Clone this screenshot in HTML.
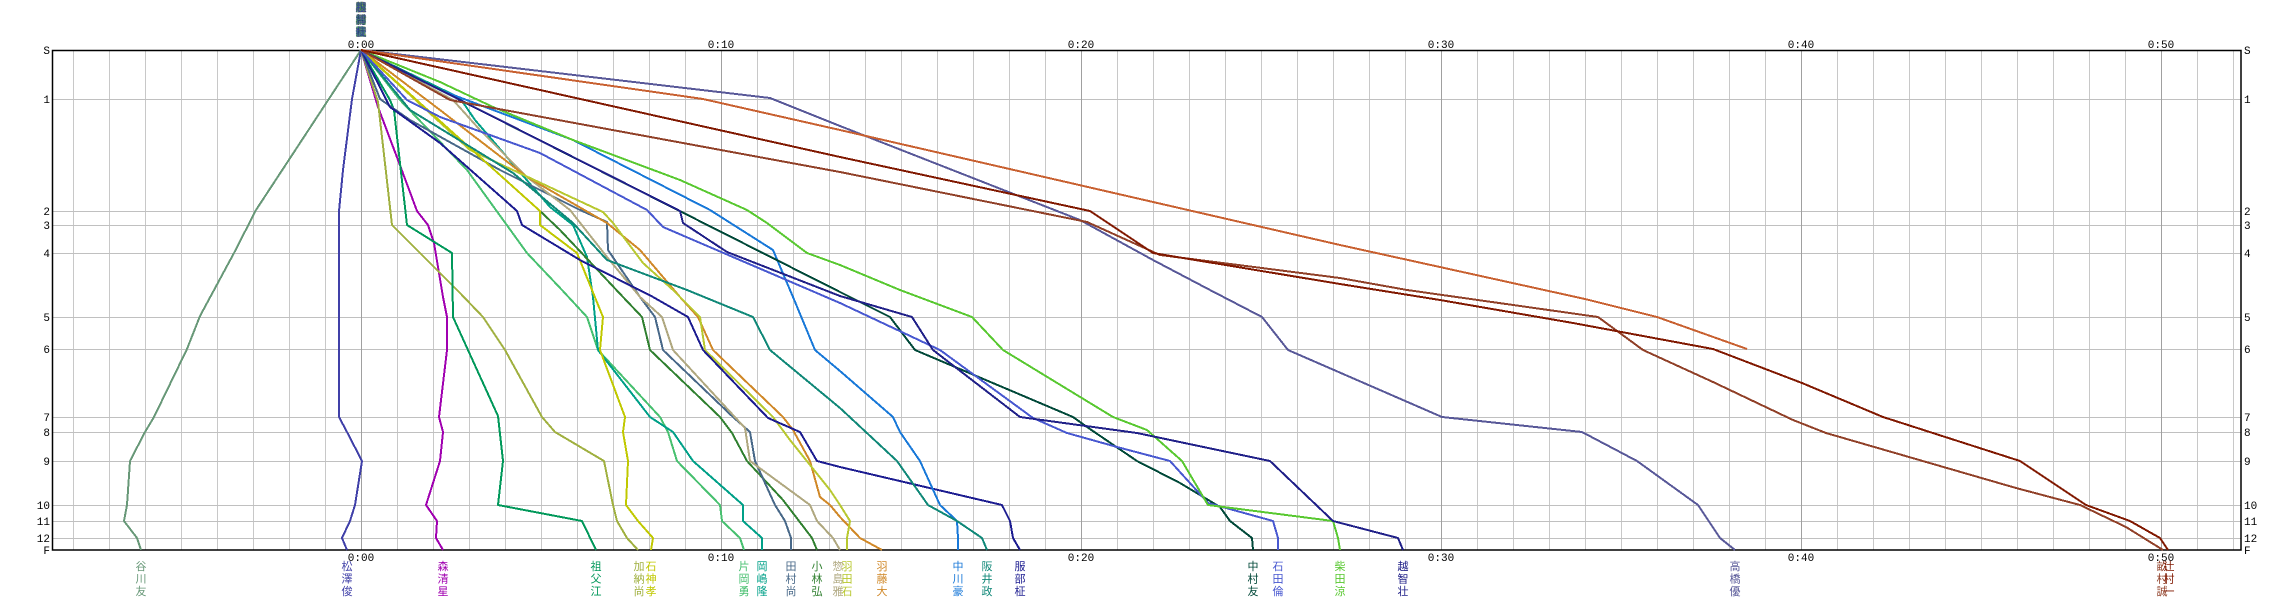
<!DOCTYPE html>
<html><head><meta charset="utf-8"><style>
html,body{margin:0;padding:0;background:#fff;}
svg{display:block;}
.t{font-family:"Liberation Mono",monospace;font-size:11px;fill:#000;}
.n{font-family:"Liberation Sans","Noto Sans CJK JP",sans-serif;font-size:11px;}
</style></head><body>
<svg xmlns="http://www.w3.org/2000/svg" width="2293" height="600" viewBox="0 0 2293 600">
<rect width="2293" height="600" fill="#fff"/>
<path fill="none" stroke="#c8c8c8" stroke-width="1" d="M73.5 50V550M109.5 50V550M145.5 50V550M181.5 50V550M217.5 50V550M253.5 50V550M289.5 50V550M325.5 50V550M397.5 50V550M433.5 50V550M469.5 50V550M505.5 50V550M541.5 50V550M577.5 50V550M613.5 50V550M649.5 50V550M685.5 50V550M757.5 50V550M793.5 50V550M829.5 50V550M865.5 50V550M901.5 50V550M937.5 50V550M973.5 50V550M1009.5 50V550M1045.5 50V550M1117.5 50V550M1153.5 50V550M1189.5 50V550M1225.5 50V550M1261.5 50V550M1297.5 50V550M1333.5 50V550M1369.5 50V550M1405.5 50V550M1477.5 50V550M1513.5 50V550M1549.5 50V550M1585.5 50V550M1621.5 50V550M1657.5 50V550M1693.5 50V550M1729.5 50V550M1765.5 50V550M1837.5 50V550M1873.5 50V550M1909.5 50V550M1945.5 50V550M1981.5 50V550M2017.5 50V550M2053.5 50V550M2089.5 50V550M2125.5 50V550M2197.5 50V550M2233.5 50V550"/>
<path fill="none" stroke="#c0c0c0" stroke-width="1" d="M52 99.5H2241M52 211.5H2241M52 225.5H2241M52 253.5H2241M52 317.5H2241M52 349.5H2241M52 417.5H2241M52 432.5H2241M52 461.5H2241M52 505.5H2241M52 521.5H2241M52 538.5H2241"/>
<path fill="none" stroke="#a0a0a0" stroke-width="1" d="M361.5 50V550M721.5 50V550M1081.5 50V550M1441.5 50V550M1801.5 50V550M2161.5 50V550"/>
<rect x="52.5" y="50.5" width="2188.5" height="499.5" fill="none" stroke="#000" stroke-width="1.5"/>

<g fill="none" stroke-width="2" stroke-linejoin="round" shape-rendering="crispEdges">
<polyline stroke="#689878" points="361,50 256,210 234,253 200,316 187,349 154,417 145,432 130,461 127,505 124,521 137,538 141,550"/>
<polyline stroke="#4040a8" points="361,50 352,99 343,170 339,211 339,417 347,432 362,461 355,505 350,521 342,538 347,550"/>
<polyline stroke="#a000b0" points="361,50 378,107 398,160 417,211 428,225 434,243 443,297 447,317 447,350 439,417 443,432 440,461 426,505 437,521 436,538 443,550"/>
<polyline stroke="#a0b040" points="361,50 378,102 392,225 460,293 483,317 505,350 542,417 555,432 604,461 613,505 617,521 627,538 638,550"/>
<polyline stroke="#00985a" points="361,50 390,100 394,110 407,225 452,253 453,317 498,416 503,461 498,505 582,521 596,550"/>
<polyline stroke="#48c070" points="361,50 400,100 467,170 527,253 562,290 587,317 598,350 660,417 668,432 677,461 720,505 722,521 740,538 744,550"/>
<polyline stroke="#00a088" points="361,50 460,98 475,120 550,207 573,225 587,257 593,297 598,350 650,417 673,432 693,461 743,505 743,521 762,538 762,550"/>
<polyline stroke="#308030" points="361,50 540,211 560,230 623,297 642,317 650,350 720,417 732,433 747,461 783,500 812,538 817,550"/>
<polyline stroke="#486888" points="361,50 380,99 410,120 500,170 580,210 607,222 608,250 640,297 655,317 663,350 733,417 750,432 755,461 775,505 785,521 791,538 791,550"/>
<polyline stroke="#b0a880" points="361,50 453,100 480,130 527,177 570,210 607,257 640,297 662,317 673,350 745,428 750,461 810,505 817,521 833,538 840,550"/>
<polyline stroke="#d08828" points="361,50 440,110 527,177 607,223 640,250 680,297 698,317 713,350 783,417 793,430 810,461 820,497 830,505 840,517 860,538 882,550"/>
<polyline stroke="#b8c830" points="361,50 470,150 603,212 613,223 643,263 673,290 700,317 705,350 773,417 790,440 830,490 840,505 850,521 847,538 847,550"/>
<polyline stroke="#c0c800" points="361,50 540,211 540,225 577,253 592,290 603,317 600,350 625,417 623,432 628,461 626,505 638,521 653,538 651,550"/>
<polyline stroke="#1c1c90" points="361,50 390,107 440,143 517,211 522,225 580,260 653,297 688,317 703,350 768,418 800,432 817,461 840,467 1002,505 1010,521 1013,538 1020,550"/>
<polyline stroke="#1878d8" points="361,50 440,90 573,140 710,210 773,250 793,297 815,350 840,371 893,417 900,432 920,461 940,505 957,521 958,538 958,550"/>
<polyline stroke="#108878" points="361,50 410,110 513,173 573,223 607,260 687,290 753,317 770,350 840,408 897,461 928,505 957,521 982,538 987,550"/>
<polyline stroke="#004838" points="361,50 840,292 890,317 915,350 1073,417 1087,427 1137,461 1180,483 1220,507 1230,521 1252,538 1253,550"/>
<polyline stroke="#4858d0" points="361,50 407,100 440,117 540,153 647,210 663,227 840,303 940,350 1033,418 1067,433 1117,447 1170,461 1208,503 1273,521 1278,538 1278,550"/>
<polyline stroke="#58c830" points="361,50 440,82 493,107 573,140 680,180 747,210 767,223 807,253 840,265 900,290 972,317 1003,350 1113,417 1147,430 1182,461 1208,505 1333,521 1338,538 1340,550"/>
<polyline stroke="#202088" points="361,50 680,211 683,223 727,252 840,296 912,317 933,350 1020,417 1137,433 1270,461 1333,521 1398,538 1403,550"/>
<polyline stroke="#585898" points="361,50 770,98 840,126 1080,220 1153,260 1210,290 1262,317 1288,350 1442,417 1582,432 1637,461 1698,505 1720,538 1735,550"/>
<polyline stroke="#c86030" points="361,50 703,99 840,130 1340,245 1585,299 1657,317 1747,349"/>
<polyline stroke="#904028" points="361,50 450,100 840,172 1087,222 1160,255 1340,278 1407,290 1598,317 1643,350 1713,382 1793,420 1826,433 2016,488 2080,505 2126,527 2163,550"/>
<polyline stroke="#801800" points="361,50 840,157 1090,211 1153,253 1340,284 1440,300 1573,323 1713,349 1802,383 1883,417 2020,461 2086,505 2130,521 2160,538 2168,550"/>
</g>

<g class="t" text-anchor="end">
<text x="50" y="54">S</text><text x="50" y="103">1</text><text x="50" y="215">2</text><text x="50" y="229">3</text><text x="50" y="257">4</text><text x="50" y="321">5</text><text x="50" y="353">6</text><text x="50" y="421">7</text><text x="50" y="436">8</text><text x="50" y="465">9</text><text x="50" y="509">10</text><text x="50" y="525">11</text><text x="50" y="542">12</text><text x="50" y="554">F</text>
</g>
<g class="t">
<text x="2244" y="54">S</text><text x="2244" y="103">1</text><text x="2244" y="215">2</text><text x="2244" y="229">3</text><text x="2244" y="257">4</text><text x="2244" y="321">5</text><text x="2244" y="353">6</text><text x="2244" y="421">7</text><text x="2244" y="436">8</text><text x="2244" y="465">9</text><text x="2244" y="509">10</text><text x="2244" y="525">11</text><text x="2244" y="542">12</text><text x="2244" y="554">F</text>
</g>
<g class="t" text-anchor="middle">
<text x="361" y="48">0:00</text><text x="721" y="48">0:10</text><text x="1081" y="48">0:20</text><text x="1441" y="48">0:30</text><text x="1801" y="48">0:40</text><text x="2161" y="48">0:50</text>
</g>
<g class="t" text-anchor="middle">
<text x="361" y="561">0:00</text><text x="721" y="561">0:10</text><text x="1081" y="561">0:20</text><text x="1441" y="561">0:30</text><text x="1801" y="561">0:40</text><text x="2161" y="561">0:50</text>
</g>

<g class="n" text-anchor="middle">
<text fill="#689878"><tspan x="141" y="570">谷</tspan><tspan x="141" y="582.5">川</tspan><tspan x="141" y="595">友</tspan></text>
<text fill="#4040a8"><tspan x="347" y="570">松</tspan><tspan x="347" y="582.5">澤</tspan><tspan x="347" y="595">俊</tspan></text>
<text fill="#a000b0"><tspan x="443" y="570">森</tspan><tspan x="443" y="582.5">清</tspan><tspan x="443" y="595">星</tspan></text>
<text fill="#00985a"><tspan x="596" y="570">祖</tspan><tspan x="596" y="582.5">父</tspan><tspan x="596" y="595">江</tspan></text>
<text fill="#a0b040"><tspan x="639" y="570">加</tspan><tspan x="639" y="582.5">納</tspan><tspan x="639" y="595">尚</tspan></text>
<text fill="#c0c800"><tspan x="651" y="570">石</tspan><tspan x="651" y="582.5">神</tspan><tspan x="651" y="595">孝</tspan></text>
<text fill="#48c070"><tspan x="744" y="570">片</tspan><tspan x="744" y="582.5">岡</tspan><tspan x="744" y="595">勇</tspan></text>
<text fill="#00a088"><tspan x="762" y="570">岡</tspan><tspan x="762" y="582.5">嶋</tspan><tspan x="762" y="595">隆</tspan></text>
<text fill="#486888"><tspan x="791" y="570">田</tspan><tspan x="791" y="582.5">村</tspan><tspan x="791" y="595">尚</tspan></text>
<text fill="#308030"><tspan x="817" y="570">小</tspan><tspan x="817" y="582.5">林</tspan><tspan x="817" y="595">弘</tspan></text>
<text fill="#b0a880"><tspan x="838" y="570">惣</tspan><tspan x="838" y="582.5">島</tspan><tspan x="838" y="595">雅</tspan></text>
<text fill="#b8c830"><tspan x="847" y="570">羽</tspan><tspan x="847" y="582.5">田</tspan><tspan x="847" y="595">石</tspan></text>
<text fill="#d08828"><tspan x="882" y="570">羽</tspan><tspan x="882" y="582.5">藤</tspan><tspan x="882" y="595">大</tspan></text>
<text fill="#1878d8"><tspan x="958" y="570">中</tspan><tspan x="958" y="582.5">川</tspan><tspan x="958" y="595">豪</tspan></text>
<text fill="#108878"><tspan x="987" y="570">阪</tspan><tspan x="987" y="582.5">井</tspan><tspan x="987" y="595">政</tspan></text>
<text fill="#1c1c90"><tspan x="1020" y="570">服</tspan><tspan x="1020" y="582.5">部</tspan><tspan x="1020" y="595">柾</tspan></text>
<text fill="#004838"><tspan x="1253" y="570">中</tspan><tspan x="1253" y="582.5">村</tspan><tspan x="1253" y="595">友</tspan></text>
<text fill="#4858d0"><tspan x="1278" y="570">石</tspan><tspan x="1278" y="582.5">田</tspan><tspan x="1278" y="595">倫</tspan></text>
<text fill="#58c830"><tspan x="1340" y="570">柴</tspan><tspan x="1340" y="582.5">田</tspan><tspan x="1340" y="595">涼</tspan></text>
<text fill="#202088"><tspan x="1403" y="570">越</tspan><tspan x="1403" y="582.5">智</tspan><tspan x="1403" y="595">壮</tspan></text>
<text fill="#585898"><tspan x="1735" y="570">高</tspan><tspan x="1735" y="582.5">橋</tspan><tspan x="1735" y="595">優</tspan></text>
<text fill="#904028"><tspan x="2162" y="570">畝</tspan><tspan x="2162" y="582.5">村</tspan><tspan x="2162" y="595">誠</tspan></text>
<text fill="#801800"><tspan x="2169" y="570">辻</tspan><tspan x="2169" y="582.5">村</tspan><tspan x="2169" y="595">一</tspan></text>
</g>

<g class="n" text-anchor="middle" fill-opacity="0.45">
<text fill="#801800"><tspan x="361" y="11">辻</tspan><tspan x="361" y="23.3">村</tspan><tspan x="361" y="35.6">一</tspan></text>
<text fill="#904028"><tspan x="361" y="11">畝</tspan><tspan x="361" y="23.3">村</tspan><tspan x="361" y="35.6">誠</tspan></text>
<text fill="#c86030"><tspan x="361" y="11">竹</tspan><tspan x="361" y="23.3">内</tspan><tspan x="361" y="35.6">健</tspan></text>
<text fill="#585898"><tspan x="361" y="11">高</tspan><tspan x="361" y="23.3">橋</tspan><tspan x="361" y="35.6">優</tspan></text>
<text fill="#689878"><tspan x="361" y="11">谷</tspan><tspan x="361" y="23.3">川</tspan><tspan x="361" y="35.6">友</tspan></text>
<text fill="#a000b0"><tspan x="361" y="11">森</tspan><tspan x="361" y="23.3">清</tspan><tspan x="361" y="35.6">星</tspan></text>
<text fill="#00985a"><tspan x="361" y="11">祖</tspan><tspan x="361" y="23.3">父</tspan><tspan x="361" y="35.6">江</tspan></text>
<text fill="#a0b040"><tspan x="361" y="11">加</tspan><tspan x="361" y="23.3">納</tspan><tspan x="361" y="35.6">尚</tspan></text>
<text fill="#c0c800"><tspan x="361" y="11">石</tspan><tspan x="361" y="23.3">神</tspan><tspan x="361" y="35.6">孝</tspan></text>
<text fill="#48c070"><tspan x="361" y="11">片</tspan><tspan x="361" y="23.3">岡</tspan><tspan x="361" y="35.6">勇</tspan></text>
<text fill="#00a088"><tspan x="361" y="11">岡</tspan><tspan x="361" y="23.3">嶋</tspan><tspan x="361" y="35.6">隆</tspan></text>
<text fill="#486888"><tspan x="361" y="11">田</tspan><tspan x="361" y="23.3">村</tspan><tspan x="361" y="35.6">尚</tspan></text>
<text fill="#308030"><tspan x="361" y="11">小</tspan><tspan x="361" y="23.3">林</tspan><tspan x="361" y="35.6">弘</tspan></text>
<text fill="#b0a880"><tspan x="361" y="11">惣</tspan><tspan x="361" y="23.3">島</tspan><tspan x="361" y="35.6">雅</tspan></text>
<text fill="#b8c830"><tspan x="361" y="11">羽</tspan><tspan x="361" y="23.3">田</tspan><tspan x="361" y="35.6">石</tspan></text>
<text fill="#d08828"><tspan x="361" y="11">羽</tspan><tspan x="361" y="23.3">藤</tspan><tspan x="361" y="35.6">大</tspan></text>
<text fill="#1878d8"><tspan x="361" y="11">中</tspan><tspan x="361" y="23.3">川</tspan><tspan x="361" y="35.6">豪</tspan></text>
<text fill="#108878"><tspan x="361" y="11">阪</tspan><tspan x="361" y="23.3">井</tspan><tspan x="361" y="35.6">政</tspan></text>
<text fill="#1c1c90"><tspan x="361" y="11">服</tspan><tspan x="361" y="23.3">部</tspan><tspan x="361" y="35.6">柾</tspan></text>
<text fill="#004838"><tspan x="361" y="11">中</tspan><tspan x="361" y="23.3">村</tspan><tspan x="361" y="35.6">友</tspan></text>
<text fill="#4858d0"><tspan x="361" y="11">石</tspan><tspan x="361" y="23.3">田</tspan><tspan x="361" y="35.6">倫</tspan></text>
<text fill="#58c830"><tspan x="361" y="11">柴</tspan><tspan x="361" y="23.3">田</tspan><tspan x="361" y="35.6">涼</tspan></text>
<text fill="#202088"><tspan x="361" y="11">越</tspan><tspan x="361" y="23.3">智</tspan><tspan x="361" y="35.6">壮</tspan></text>
<text fill="#4040a8"><tspan x="361" y="11">松</tspan><tspan x="361" y="23.3">澤</tspan><tspan x="361" y="35.6">俊</tspan></text>
</g>
</svg>
</body></html>
